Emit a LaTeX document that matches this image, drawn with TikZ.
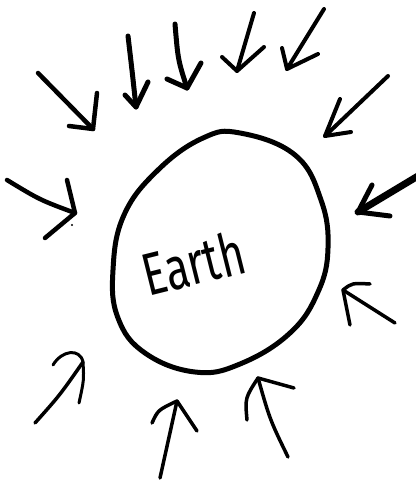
\documentclass[tikz,border=0pt]{standalone}
\usepackage{fontspec}
\setmainfont{Fira Sans}
\begin{document}
\begin{tikzpicture}[x=1pt,y=-1pt,
  pen/.style={line width=#1, line cap=round, line join=round, black},
  pen/.default=4pt]
\useasboundingbox[fill=white] (0,0) rectangle (415,481);
% Earth outline
\draw[pen=5pt] plot[smooth cycle, tension=0.7] coordinates {
 (240,133) (295,155) (321,200) (328,248) (318,292) (290,333) (240,364)
 (195,372) (145,353) (118,318) (113,270) (124,215) (158,170) (203,138)};
\node[rotate=14, xscale=0.72, font=\fontsize{60}{60}\selectfont] (earth) at (193,263) {Earth};
% arrows: tail, tip, barbs
% 1
\coordinate (t1) at (38,73); \coordinate (p1) at (93,129);
\coordinate (a1) at (97,93); \coordinate (b1) at (69,126);
\draw[pen=4.5pt] (t1) -- (p1); \draw[pen=4.5pt] (a1) -- (p1) -- (b1);
% 2
\coordinate (t2) at (128,36); \coordinate (p2) at (136,107);
\coordinate (a2) at (125,95); \coordinate (b2) at (148,82);
\draw[pen=5pt] (t2) .. controls (132,70) .. (p2); \draw[pen=5pt] (a2) -- (p2) -- (b2);
% 3
\coordinate (t3) at (175,24); \coordinate (p3) at (187,88);
\coordinate (a3) at (167,79); \coordinate (b3) at (201,63);
\draw[pen=5pt] (t3) .. controls (178,60) .. (p3); \draw[pen=5pt] (a3) -- (p3) -- (b3);
% 4
\coordinate (t4) at (254,13); \coordinate (p4) at (237,71);
\coordinate (a4) at (222,57); \coordinate (b4) at (264,47);
\draw[pen=4pt] (t4) -- (p4); \draw[pen=4pt] (a4) -- (p4) -- (b4);
% 5
\coordinate (t5) at (324,9); \coordinate (p5) at (287,69);
\coordinate (a5) at (282,48); \coordinate (b5) at (318,54);
\draw[pen=4pt] (t5) -- (p5); \draw[pen=4pt] (a5) -- (p5) -- (b5);
% 6
\coordinate (t6) at (388,76); \coordinate (p6) at (325,136);
\coordinate (a6) at (340,99); \coordinate (b6) at (351,132);
\draw[pen=4pt] (t6) -- (p6); \draw[pen=4pt] (a6) -- (p6) -- (b6);
% 7
\coordinate (t7) at (418,176); \coordinate (p7) at (358,212);
\coordinate (a7) at (372,185); \coordinate (b7) at (390,216);
\draw[pen=7pt] (t7) -- (p7); \draw[pen=5pt] (a7) -- (p7) -- (b7);
% 8
\coordinate (t8) at (7,180); \coordinate (p8) at (75,213);
\coordinate (a8) at (67,180); \coordinate (b8) at (45,238);
\draw[pen=4.5pt] (t8) .. controls (40,200) .. (p8); \draw[pen=4.5pt] (a8) -- (p8) -- (b8);
\fill (72,225) circle (1.2pt);
% 9
\coordinate (t9) at (395,323); \coordinate (p9) at (343,290);
\coordinate (a9) at (370,284); \coordinate (b9) at (350,325);
\draw[pen=3.5pt] (t9) -- (p9);
\draw[pen=3.5pt] (a9) .. controls (352,283) .. (p9) -- (b9);
% 10
\coordinate (t10) at (288,457); \coordinate (p10) at (258,378);
\coordinate (a10) at (294,388); \coordinate (b10) at (247,420);
\draw[pen=3.5pt] (t10) .. controls (270,420) .. (p10);
\draw[pen=3.5pt] (a10) -- (p10) .. controls (245,398) .. (b10);
% 11
\coordinate (t11) at (160,478); \coordinate (p11) at (177,401);
\coordinate (a11) at (152,423); \coordinate (b11) at (197,431);
\draw[pen=3.5pt] (t11) -- (p11); \draw[pen=3.5pt] (a11) .. controls (158,410) .. (p11) -- (b11);
% 12
\coordinate (t12) at (35,423); \coordinate (p12) at (83,362);
\coordinate (a12) at (53,365); \coordinate (b12) at (79,403);
\draw[pen=3.5pt] (t12) .. controls (60,395) .. (p12);
\draw[pen=3pt] (a12) .. controls (62,350) and (80,348) .. (p12) .. controls (84,380) .. (b12);
\end{tikzpicture}
\end{document}
